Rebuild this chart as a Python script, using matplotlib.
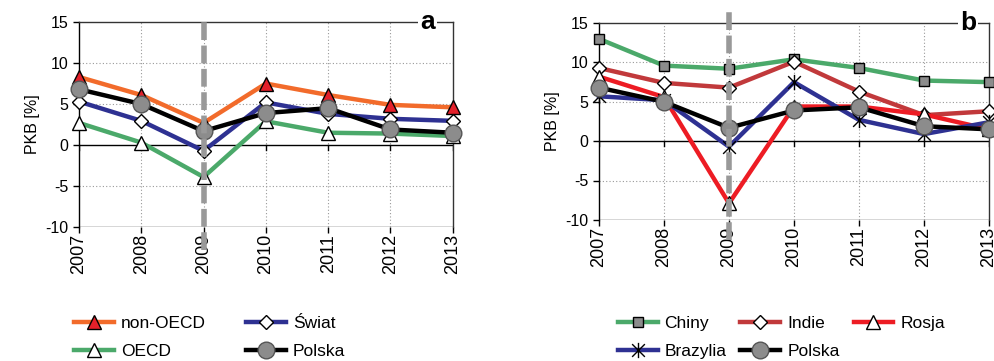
import matplotlib
matplotlib.use("Agg")
import matplotlib.pyplot as plt
from matplotlib.path import Path

plt.rcParams['font.family'] = ['Liberation Sans', 'DejaVu Sans']
plt.rcParams['axes.unicode_minus'] = False

years = [2007, 2008, 2009, 2010, 2011, 2012, 2013]
year_labels = [str(y) for y in years]

# panel a
non_oecd = [8.3, 6.1, 2.7, 7.5, 6.1, 4.9, 4.6]
swiat = [5.3, 2.95, -0.7, 5.2, 3.8, 3.2, 2.95]
oecd = [2.7, 0.3, -3.9, 2.9, 1.5, 1.4, 1.1]
polska_a = [6.8, 5.0, 1.7, 3.9, 4.5, 1.9, 1.5]

# panel b
chiny = [13.0, 9.6, 9.2, 10.4, 9.3, 7.7, 7.5]
indie = [9.3, 7.4, 6.8, 10.1, 6.3, 3.3, 3.8]
rosja = [8.2, 5.6, -7.9, 4.4, 4.4, 3.4, 1.5]
brazylia = [5.7, 5.2, -0.7, 7.5, 2.7, 0.9, 2.4]
polska_b = [6.8, 5.0, 1.7, 3.9, 4.3, 1.9, 1.5]

# Excel-like star marker: X plus vertical bar
star = Path([(-1, -1), (1, 1), (-1, 1), (1, -1), (0, -1.2), (0, 1.2)],
            [Path.MOVETO, Path.LINETO, Path.MOVETO, Path.LINETO, Path.MOVETO, Path.LINETO])

LW = 3.2
fig = plt.figure(figsize=(9.95, 3.61), dpi=100)
ax_a = fig.add_axes([0.0794, 0.371, 0.3756, 0.568])
ax_b = fig.add_axes([0.602, 0.391, 0.392, 0.545])


def style_axes(ax, letter, letter_x, dash_lo, dash_hi):
    ax.set_xlim(2007, 2013)
    ax.set_ylim(-10, 15)
    ax.set_yticks([-10, -5, 0, 5, 10, 15])
    ax.set_xticks(years)
    ax.tick_params(axis='x', direction='out', length=4, labelbottom=False, width=1)
    ax.tick_params(axis='y', direction='out', length=4, labelsize=11.5, width=1)
    ax.spines['bottom'].set_visible(False)
    for s in ['left', 'top', 'right']:
        ax.spines[s].set_linewidth(1.0)
    ax.spines['top'].set_color('#333333')
    ax.spines['right'].set_color('#333333')
    # bottom border at -10
    ax.axhline(-10, color='#333333', lw=1.0, zorder=1)
    # grid
    for y in [-5, 5, 10]:
        ax.axhline(y, color='#999999', lw=0.8, ls=(0, (1, 2)), zorder=0)
    for x in years[1:-1]:
        ax.axvline(x, color='#999999', lw=0.8, ls=(0, (1, 2)), zorder=0)
    # zero line with ticks
    ax.axhline(0, color='black', lw=1.0, zorder=1)
    for x in years:
        ax.plot([x, x], [0, -0.6], color='black', lw=1.0, zorder=1)
    sec = ax.secondary_xaxis(0.0)
    sec.set_xticks(years, year_labels, rotation=90, fontsize=13)
    sec.tick_params(length=0, pad=5)
    sec.spines['bottom'].set_visible(False)
    ax.set_ylabel('PKB [%]', fontsize=11.5, labelpad=4)
    # 2009 marker line
    ax.axvline(2009, ymin=dash_lo, ymax=dash_hi, color='#999999', lw=4,
               ls=(0, (3.2, 1.0)), clip_on=False, zorder=6)
    ax.text(letter_x, 15, letter, ha='center', va='center', fontsize=19,
            fontweight='bold', zorder=10, clip_on=False,
            bbox=dict(facecolor='white', edgecolor='none', pad=1.5))


style_axes(ax_a, 'a', 2012.6, -0.11, 1.025)
style_axes(ax_b, 'b', 2012.68, -0.10, 1.08)

# panel a lines
ax_a.plot(years, oecd, color='#4BA96A', lw=LW, marker='^', ms=10, mfc='white',
          mec='black', mew=1, label='OECD', zorder=3, clip_on=False)
ax_a.plot(years, swiat, color='#2E3192', lw=LW, marker='D', ms=7.5, mfc='white',
          mec='black', mew=1, label='Świat', zorder=3, clip_on=False)
ax_a.plot(years, non_oecd, color='#F26B2B', lw=LW, marker='^', ms=10, mfc='#E3202A',
          mec='black', mew=1, label='non-OECD', zorder=4, clip_on=False)
ax_a.plot(years, polska_a, color='black', lw=LW, marker='o', ms=12, mfc='#8C8C8C',
          mec='#555555', mew=1, label='Polska', zorder=5, clip_on=False)

h, l = ax_a.get_legend_handles_labels()
order = ['non-OECD', 'OECD', 'Świat', 'Polska']
hs = [h[l.index(n)] for n in order]
fig.legend(hs, order, ncol=2, loc='upper left', bbox_to_anchor=(0.066, 0.148),
           frameon=False, fontsize=12.5, handlelength=2.3, columnspacing=2.3,
           labelspacing=0.7, handletextpad=0.4, borderpad=0)

# panel b lines
ax_b.plot(years, chiny, color='#4BA96A', lw=LW, marker='s', ms=7.5, mfc='#8C8C8C',
          mec='black', mew=1, label='Chiny', zorder=3, clip_on=False)
ax_b.plot(years, indie, color='#C1393B', lw=LW, marker='D', ms=7.5, mfc='white',
          mec='black', mew=1, label='Indie', zorder=3, clip_on=False)
ax_b.plot(years, rosja, color='#ED1C24', lw=LW, marker='^', ms=10, mfc='white',
          mec='black', mew=1, label='Rosja', zorder=3, clip_on=False)
ax_b.plot(years, brazylia, color='#2E3192', lw=LW, marker=star, ms=11, mfc='none',
          mec='black', mew=1, label='Brazylia', zorder=4, clip_on=False)
ax_b.plot(years, polska_b, color='black', lw=LW, marker='o', ms=12, mfc='#8C8C8C',
          mec='#555555', mew=1, label='Polska', zorder=5, clip_on=False)

h, l = ax_b.get_legend_handles_labels()
order = ['Chiny', 'Brazylia', 'Indie', 'Polska', 'Rosja']
hs = [h[l.index(n)] for n in order]
fig.legend(hs, order, ncol=3, loc='upper left', bbox_to_anchor=(0.612, 0.148),
           frameon=False, fontsize=12.5, handlelength=2.3, columnspacing=0.8,
           labelspacing=0.7, handletextpad=0.4, borderpad=0)

fig.savefig('out.png', dpi=100)
